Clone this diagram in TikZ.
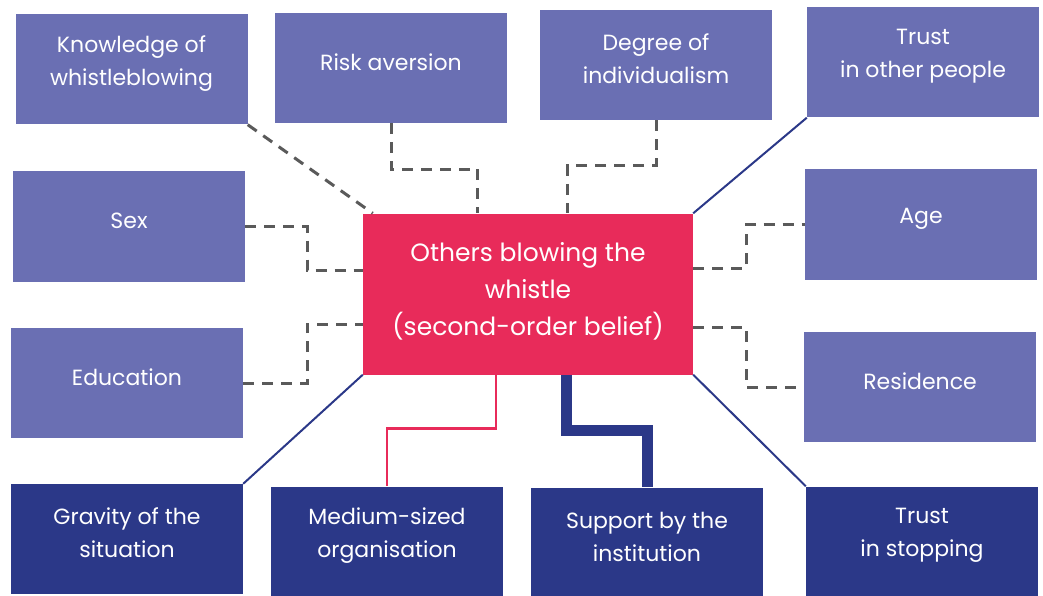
\documentclass[tikz,border=0pt]{standalone}
\usepackage{fontspec}
\setmainfont{Poppins}
\usetikzlibrary{calc}

\definecolor{factorlight}{HTML}{6A6FB3}
\definecolor{factordark}{HTML}{2B3888}
\definecolor{beliefred}{HTML}{E82B5A}
\definecolor{linkgrey}{HTML}{5A5A5A}

\tikzset{
  factor/.style={rectangle, fill=#1, minimum width=232pt, minimum height=110pt, inner sep=0pt},
  factortext/.style={text=white, align=center, font=\fontsize{22}{33}\selectfont, yshift=6pt},
  dashlink/.style={linkgrey, line width=3pt, dash pattern=on 11pt off 8pt},
  navylink/.style={factordark, line width=2pt},
}

\begin{document}
\begin{tikzpicture}[x=1pt, y=-1pt]
\useasboundingbox (0,0) rectangle (1043,596);

% the belief in the middle
\node[rectangle, fill=beliefred, minimum width=330pt, minimum height=161pt, inner sep=0pt,
      label={[text=white, align=center, font=\fontsize{25}{37}\selectfont, yshift=3pt]center:Others blowing the\\whistle\\(second-order belief)}]
      (centre) at (528,294) {};

% factors
\foreach \n/\x/\y/\t in {know/131.5/69.5/{Knowledge of\\whistleblowing}, risk/391/68/{Risk aversion},
    degree/656/65/{Degree of\\individualism}, trusto/923/62.5/{Trust\\in other people},
    sex/129/226.5/{Sex}, edu/127/383/{Education}, age/921/224.5/{Age}, res/920/387/{Residence}}
  \node[factor=factorlight, label={[factortext]center:\t}] (\n) at (\x,\y) {};

\foreach \n/\x/\y/\t in {grav/127/539/{Gravity of the\\situation}, med/387/541.5/{Medium-sized\\organisation},
    sup/647/542.5/{Support by the\\institution}, trusts/922/541.5/{Trust\\in stopping}}
  \node[factor=factordark, label={[factortext]center:\t}] (\n) at (\x,\y) {};

% dashed links
\draw[dashlink] (know.south east) -- ([xshift=10pt]centre.north west);
\draw[dashlink] (risk.south) -- ++(0,46) -| ([xshift=115pt]centre.north west);
\draw[dashlink] (degree.south) -- ++(0,45) -| ([xshift=205pt]centre.north west);
\draw[dashlink] (sex.east) -- ++(62,0) |- ([yshift=24pt]centre.west);
\draw[dashlink] (edu.east) -- ++(64,0) |- ([yshift=-30pt]centre.west);
\draw[dashlink] ([yshift=26pt]centre.east) -- ++(53,0) |- (age.west);
\draw[dashlink] ([yshift=-33pt]centre.east) -- ++(53,0) |- (res.west);

% solid links
\draw[navylink] (trusto.south west) -- (centre.north east);
\draw[navylink] (grav.north east) -- (centre.south west);
\draw[navylink] (centre.south east) -- (trusts.north west);
\draw[beliefred, line width=2.5pt] ([xshift=133pt]centre.south west) -- ++(0,54) -| (med.north);
\draw[factordark, line width=11pt] ([xshift=204pt]centre.south west) -- ++(0,56) -| (sup.north);

\end{tikzpicture}
\end{document}
